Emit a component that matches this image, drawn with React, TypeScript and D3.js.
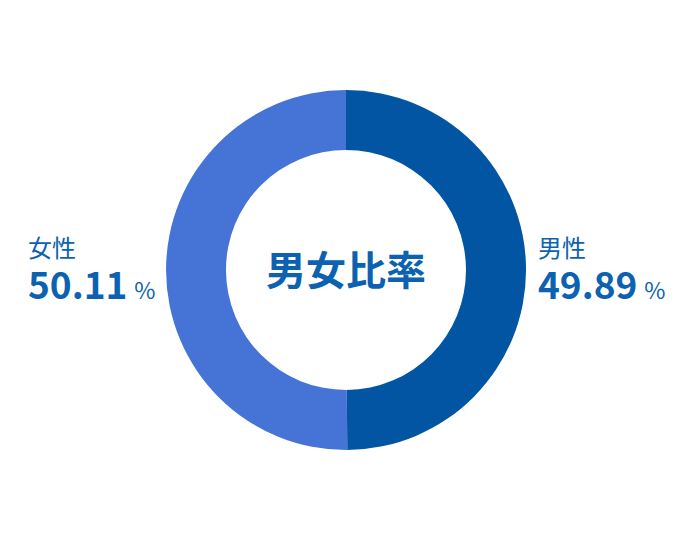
import React, { useEffect, useRef } from "react";
import * as d3 from "d3";

// 男女比率
const categories = ["男性", "女性"];
const shares = [49.89, 50.11];
const colors = ["#0255a3", "#4674d6"];
const centerTitle = "男女比率";

const App: React.FC = () => {
  const svgRef = useRef<SVGSVGElement | null>(null);

  useEffect(() => {
    const width = 690;
    const height = 540;
    const cx = 346;
    const cy = 270;
    const outer = 180;
    const inner = 120;
    const textColor = "#0c62b0";
    const font = "'Noto Sans CJK JP', 'Noto Sans', sans-serif";

    const svg = d3
      .select(svgRef.current)
      .attr("width", width)
      .attr("height", height)
      .attr("viewBox", [0, 0, width, height]);
    svg.selectAll("*").remove();

    const pie = d3
      .pie<number>()
      .sort(null)
      .value((d) => d);
    const arc = d3.arc<d3.PieArcDatum<number>>().innerRadius(inner).outerRadius(outer);

    const g = svg.append("g").attr("transform", `translate(${cx},${cy})`);
    g.selectAll("path")
      .data(pie(shares))
      .enter()
      .append("path")
      .attr("d", arc)
      .attr("fill", (_, i) => colors[i]);

    g.append("text")
      .attr("text-anchor", "middle")
      .attr("y", 15)
      .attr("fill", textColor)
      .style("font-family", font)
      .style("font-weight", "700")
      .style("font-size", "40px")
      .text(centerTitle);

    // labels: male on right, female on left
    const labelX = [538, 28];
    categories.forEach((name, i) => {
      const lg = svg.append("g").attr("transform", `translate(${labelX[i]},0)`);
      lg.append("text")
        .attr("y", 257)
        .attr("fill", textColor)
        .style("font-family", font)
        .style("font-size", "24px")
        .text(name);
      const num = lg
        .append("text")
        .attr("y", 299)
        .attr("fill", textColor)
        .style("font-family", font)
        .style("font-weight", "700")
        .style("font-size", "37px");
      num.append("tspan").text(d3.format(".2f")(shares[i]));
      num
        .append("tspan")
        .attr("dx", 7)
        .style("font-weight", "400")
        .style("font-size", "23px")
        .text("%");
    });
  }, []);

  return (
    <div style={{ width: "690px", height: "540px", margin: "-8px" }}>
      <svg ref={svgRef}></svg>
    </div>
  );
};

export default App;
